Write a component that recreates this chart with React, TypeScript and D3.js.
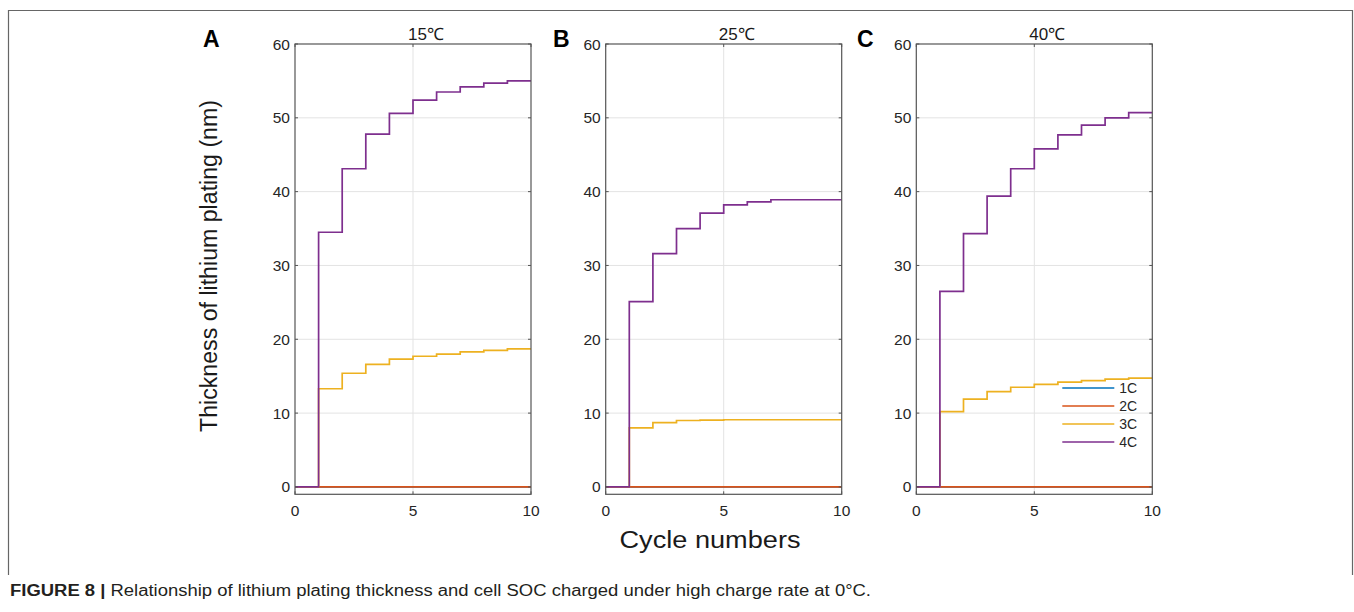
import React, { useRef, useEffect } from 'react';
import * as d3 from 'd3';

// cycle index 0..10, values step after each cycle
const cycles = [0, 1, 2, 3, 4, 5, 6, 7, 8, 9, 10];
const seriesNames = ['1C', '2C', '3C', '4C'];
const seriesColors = ['#0072BD', '#D95319', '#EDB120', '#7E2F8E'];

const panelTitles = ['15\u2103', '25\u2103', '40\u2103'];
const panelLetters = ['A', 'B', 'C'];

const zeroLine = [0, 0, 0, 0, 0, 0, 0, 0, 0, 0, 0];

const a3C = [0, 13.3, 15.4, 16.6, 17.3, 17.7, 18.0, 18.3, 18.5, 18.7, 18.7];
const a4C = [0, 34.5, 43.1, 47.8, 50.6, 52.4, 53.5, 54.2, 54.7, 55.0, 55.0];

const b3C = [0, 8.0, 8.7, 9.0, 9.05, 9.1, 9.1, 9.1, 9.1, 9.1, 9.1];
const b4C = [0, 25.1, 31.6, 35.0, 37.1, 38.2, 38.6, 38.9, 38.9, 38.9, 38.9];

const c3C = [0, 10.2, 11.9, 12.9, 13.5, 13.9, 14.2, 14.4, 14.6, 14.75, 14.75];
const c4C = [0, 26.5, 34.3, 39.4, 43.1, 45.8, 47.7, 49.0, 50.0, 50.7, 50.7];

const yTicks = [0, 10, 20, 30, 40, 50, 60];
const xTicks = [0, 5, 10];

const panels = [
  [zeroLine, zeroLine, a3C, a4C],
  [zeroLine, zeroLine, b3C, b4C],
  [zeroLine, zeroLine, c3C, c4C],
];

function App() {
  const svgRef = useRef(null);

  useEffect(() => {
    const svg = d3.select(svgRef.current);
    svg.selectAll('*').remove();

    const font = 'Liberation Sans, Arial, Helvetica, sans-serif';
    const panelLeft = [295, 605.7, 916.3];
    const panelW = 236;
    const top = 44;
    const bottom = 494.3;
    const letterX = [203, 553, 857];

    // outer frame
    svg
      .append('path')
      .attr('d', 'M8.5,575 V10.5 H1352.5 V575')
      .attr('fill', 'none')
      .attr('stroke', '#666')
      .attr('stroke-width', 1.2);

    const y = d3.scaleLinear().domain([-1, 60]).range([bottom, top]);

    panels.forEach((series, p) => {
      const left = panelLeft[p];
      const x = d3.scaleLinear().domain([0, 10]).range([left, left + panelW]);
      const g = svg.append('g');

      // grid
      g.selectAll('.gy')
        .data(yTicks.filter((t) => t > 0 && t < 60))
        .join('line')
        .attr('x1', x(0))
        .attr('x2', x(10))
        .attr('y1', (d) => y(d))
        .attr('y2', (d) => y(d))
        .attr('stroke', '#e3e3e3')
        .attr('stroke-width', 1);
      g.selectAll('.gx')
        .data(xTicks.filter((t) => t > 0 && t < 10))
        .join('line')
        .attr('x1', (d) => x(d))
        .attr('x2', (d) => x(d))
        .attr('y1', top)
        .attr('y2', bottom)
        .attr('stroke', '#e3e3e3')
        .attr('stroke-width', 1);

      // lines
      const line = d3
        .line()
        .x((d, i) => x(cycles[i]))
        .y((d) => y(d))
        .curve(d3.curveStepAfter);
      series.forEach((vals, s) => {
        g.append('path')
          .attr('d', line(vals))
          .attr('fill', 'none')
          .attr('stroke', seriesColors[s])
          .attr('stroke-width', 1.7);
      });

      // box + inner ticks
      g.append('rect')
        .attr('x', x(0))
        .attr('y', top)
        .attr('width', panelW)
        .attr('height', bottom - top)
        .attr('fill', 'none')
        .attr('stroke', '#555')
        .attr('stroke-width', 1.2);
      yTicks.forEach((t) => {
        g.append('line').attr('x1', x(0)).attr('x2', x(0) + 3).attr('y1', y(t)).attr('y2', y(t)).attr('stroke', '#555');
        g.append('line').attr('x1', x(10)).attr('x2', x(10) - 3).attr('y1', y(t)).attr('y2', y(t)).attr('stroke', '#555');
      });
      xTicks.forEach((t) => {
        g.append('line').attr('x1', x(t)).attr('x2', x(t)).attr('y1', bottom).attr('y2', bottom - 3).attr('stroke', '#555');
        g.append('line').attr('x1', x(t)).attr('x2', x(t)).attr('y1', top).attr('y2', top + 3).attr('stroke', '#555');
      });

      // tick labels
      g.selectAll('.yl')
        .data(yTicks)
        .join('text')
        .attr('x', x(0) - 5)
        .attr('y', (d) => y(d))
        .attr('dy', '0.36em')
        .attr('text-anchor', 'end')
        .attr('font-family', font)
        .attr('font-size', 15.5)
        .attr('fill', '#262626')
        .text((d) => d);
      g.selectAll('.xl')
        .data(xTicks)
        .join('text')
        .attr('x', (d) => x(d))
        .attr('y', 516)
        .attr('text-anchor', 'middle')
        .attr('font-family', font)
        .attr('font-size', 15.5)
        .attr('fill', '#262626')
        .text((d) => d);

      // title and panel letter
      g.append('text')
        .attr('x', x(5) - 5)
        .attr('y', 40)
        .attr('font-family', font)
        .attr('font-size', 17)
        .attr('fill', '#1a1a1a')
        .text(panelTitles[p]);
      g.append('text')
        .attr('x', letterX[p])
        .attr('y', 47)
        .attr('font-family', font)
        .attr('font-size', 23)
        .attr('font-weight', 'bold')
        .attr('fill', '#000')
        .text(panelLetters[p]);

      // legend in last panel
      if (p === 2) {
        const lg = g.append('g');
        seriesNames.forEach((name, s) => {
          const ly = y(13.4) + s * 18;
          lg.append('line')
            .attr('x1', x(10) - 90)
            .attr('x2', x(10) - 38)
            .attr('y1', ly)
            .attr('y2', ly)
            .attr('stroke', seriesColors[s])
            .attr('stroke-width', 1.7);
          lg.append('text')
            .attr('x', x(10) - 33)
            .attr('y', ly)
            .attr('dy', '0.36em')
            .attr('font-family', font)
            .attr('font-size', 14)
            .attr('fill', '#262626')
            .text(name);
        });
      }
    });

    // axis labels
    svg
      .append('text')
      .attr('transform', 'translate(211,266) rotate(-90)')
      .attr('text-anchor', 'middle')
      .attr('dominant-baseline', 'middle')
      .attr('font-family', font)
      .attr('font-size', 23)
      .attr('fill', '#1a1a1a')
      .attr('textLength', 332)
      .attr('lengthAdjust', 'spacingAndGlyphs')
      .text('Thickness of lithium plating (nm)');
    svg
      .append('text')
      .attr('x', 710)
      .attr('y', 548)
      .attr('text-anchor', 'middle')
      .attr('font-family', font)
      .attr('font-size', 23)
      .attr('fill', '#1a1a1a')
      .attr('textLength', 181)
      .attr('lengthAdjust', 'spacingAndGlyphs')
      .text('Cycle numbers');

    // caption
    const cap = svg
      .append('text')
      .attr('x', 10)
      .attr('y', 596)
      .attr('font-family', 'Liberation Sans Narrow, Liberation Sans, Arial, sans-serif')
      .attr('font-size', 16)
      .attr('fill', '#231f20')
      .attr('textLength', 861)
      .attr('lengthAdjust', 'spacingAndGlyphs');
    cap.append('tspan').attr('font-weight', 'bold').text('FIGURE 8 | ');
    cap.append('tspan').text('Relationship of lithium plating thickness and cell SOC charged under high charge rate at 0\u00B0C.');
  }, []);

  return (
    <svg
      ref={svgRef}
      width={1354}
      height={612}
      style={{ position: 'absolute', left: 0, top: 0, background: '#fff' }}
    ></svg>
  );
}

export default App;
